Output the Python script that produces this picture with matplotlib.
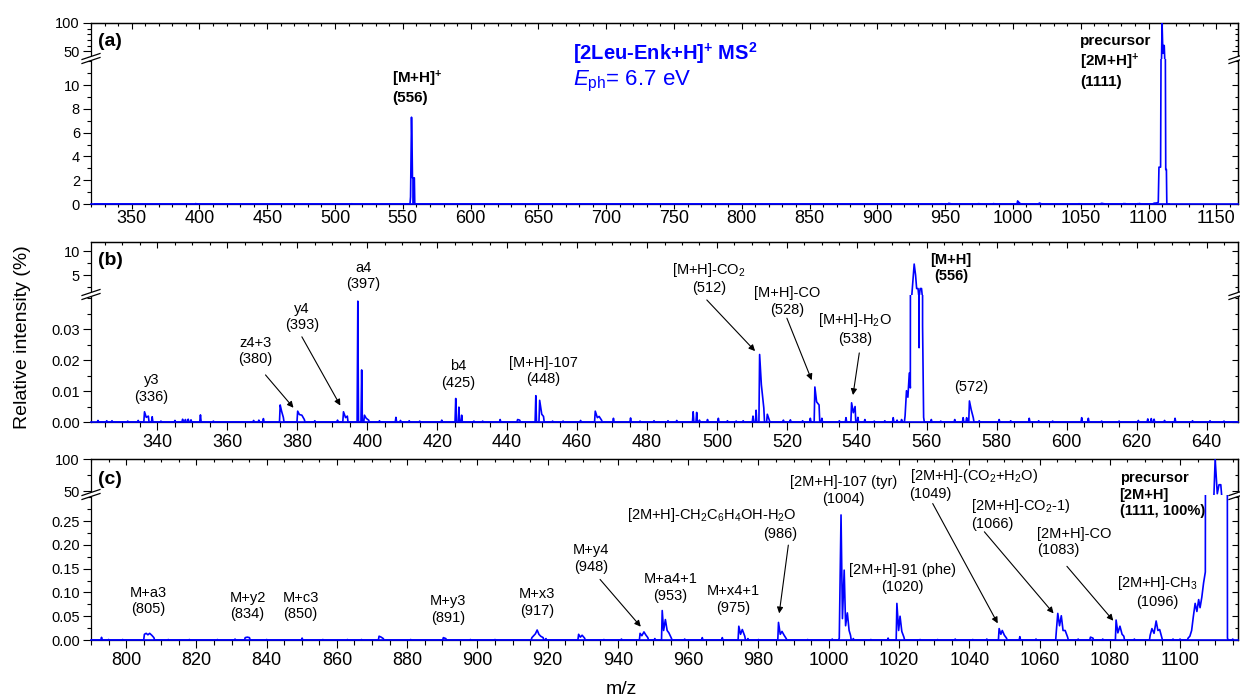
import matplotlib
matplotlib.use('Agg')
import matplotlib.pyplot as plt
from matplotlib.lines import Line2D
from matplotlib.patches import Polygon
from matplotlib.ticker import MultipleLocator, FixedLocator, FormatStrFormatter, NullFormatter

plt.rcParams['font.family'] = ['Liberation Sans', 'DejaVu Sans']
plt.rcParams['mathtext.fontset'] = 'custom'
plt.rcParams['mathtext.rm'] = 'Liberation Sans'
plt.rcParams['mathtext.it'] = 'Liberation Sans:italic'
plt.rcParams['mathtext.bf'] = 'Liberation Sans:bold'
plt.rcParams['axes.linewidth'] = 0.9

BLUE = '#0000ff'

# ══════════════════════════════════════════════
# DATA  (peak m/z, relative intensity in %)
# ══════════════════════════════════════════════

# [M+H]+ region (panel b window)
mz_low = [323.0, 325.5, 327.0, 331.5, 334.5, 336.3, 336.8, 337.4, 338.5, 341.0,
          345.0, 347.2, 348.0, 348.8, 349.6, 352.3, 356.0, 367.5, 369.0, 370.3,
          375.1, 375.5, 376.0, 380.1, 380.6, 381.3, 382.0, 385.0, 391.5, 393.2,
          393.8, 394.3, 397.3, 398.4, 399.2, 399.7, 400.4, 403.5, 408.2, 409.5,
          412.0, 415.0, 421.3, 425.3, 426.2, 427.0, 430.5, 433.0, 438.0, 443.0,
          443.6, 448.2, 449.3, 449.9, 450.4, 453.0, 456.0, 461.0, 465.2, 465.8,
          466.3, 467.0, 470.4, 475.3, 478.0, 482.0, 486.0, 488.5, 493.2, 494.2,
          495.0, 497.3, 500.4, 503.0, 505.5, 507.5, 510.3, 511.2, 512.2, 512.7,
          513.4, 514.4, 515.0, 519.0, 521.0, 524.5, 526.7, 528.0, 528.5, 529.2,
          530.0, 535.0, 536.9, 538.5, 539.0, 539.5, 540.3, 542.3, 545.0, 548.0,
          550.4, 551.5, 552.8, 553.8, 554.2, 554.6, 555.0, 555.3, 555.7, 556.4,
          556.8, 557.1, 557.5, 557.8, 558.1, 558.5, 558.8, 559.1, 561.3, 564.0,
          568.0, 570.4, 571.4, 572.2, 572.7, 573.3, 575.0, 580.7, 584.0, 589.3,
          592.0, 596.0, 604.3, 606.2, 610.0, 615.0, 620.5, 623.2, 624.2, 625.0,
          628.0, 631.0, 636.0, 641.0, 645.0]
int_low = [0.0005, 0.0004, 0.0004, 0.0003, 0.0005, 0.0033, 0.0015, 0.0019, 0.0017, 0.0003,
           0.0005, 0.0009, 0.0008, 0.0009, 0.0007, 0.0023, 0.0003, 0.0005, 0.0006, 0.0011,
           0.0055, 0.0035, 0.0015, 0.0035, 0.0024, 0.0022, 0.0008, 0.0004, 0.0006, 0.0033,
           0.0014, 0.0019, 0.0390, 0.0168, 0.0022, 0.0012, 0.0006, 0.0004, 0.0015, 0.0005,
           0.0004, 0.0003, 0.0006, 0.0076, 0.0048, 0.0022, 0.0003, 0.0003, 0.0008, 0.0008,
           0.0006, 0.0085, 0.0070, 0.0025, 0.0018, 0.0003, 0.0003, 0.0005, 0.0035, 0.0014,
           0.0018, 0.0006, 0.0012, 0.0013, 0.0003, 0.0004, 0.0004, 0.0005, 0.0033, 0.0031,
           0.0006, 0.0008, 0.0012, 0.0004, 0.0003, 0.0004, 0.0019, 0.0038, 0.0218, 0.0120,
           0.0045, 0.0025, 0.0005, 0.0006, 0.0007, 0.0004, 0.0012, 0.0113, 0.0065, 0.0055,
           0.0012, 0.0004, 0.0014, 0.0062, 0.0030, 0.0050, 0.0015, 0.0008, 0.0003, 0.0004,
           0.0014, 0.0006, 0.0008, 0.0020, 0.0101, 0.0080, 0.0158, 0.0110, 0.6, 7.3,
           5.0, 2.2, 2.2, 0.024, 2.2, 2.2, 0.031, 0.0015, 0.0008, 0.0003,
           0.0008, 0.0014, 0.0014, 0.0068, 0.0040, 0.0014, 0.0004, 0.0008, 0.0004, 0.0012,
           0.0004, 0.0003, 0.0014, 0.0012, 0.0003, 0.0003, 0.0005, 0.0010, 0.0011, 0.0009,
           0.0005, 0.0012, 0.0004, 0.0004, 0.0003]

# [2M+H]+ region (panel c window)
mz_high = [793.0, 795.0, 799.0, 805.2, 805.7, 806.2, 806.7, 807.3, 807.9, 812.0,
           818.0, 826.0, 831.0, 833.9, 834.5, 835.1, 840.0, 850.1, 856.0, 863.0,
           867.0, 872.0, 872.6, 873.2, 881.0, 890.3, 891.0, 898.0, 905.0, 915.5,
           916.0, 916.5, 917.0, 917.5, 918.0, 918.7, 919.5, 928.8, 929.3, 929.8,
           930.5, 936.0, 941.0, 946.3, 946.8, 947.4, 947.9, 948.5, 950.5, 952.6,
           953.0, 953.5, 954.0, 954.5, 955.2, 959.0, 964.0, 969.7, 974.4, 974.9,
           975.4, 976.1, 977.0, 980.0, 985.7, 986.2, 986.7, 987.3, 987.9, 994.0,
           1001.0, 1003.0, 1003.5, 1003.9, 1004.4, 1004.8, 1005.3, 1005.8, 1006.2, 1007.0,
           1012.0, 1016.9, 1019.4, 1019.9, 1020.3, 1020.8, 1021.4, 1026.0, 1031.0, 1036.0,
           1041.0, 1045.0, 1048.5, 1049.0, 1049.4, 1050.0, 1050.6, 1054.4, 1059.0, 1064.8,
           1065.2, 1065.7, 1066.2, 1066.7, 1067.3, 1068.0, 1071.0, 1074.5, 1075.2, 1078.0,
           1081.8, 1082.3, 1082.9, 1083.5, 1084.0, 1087.0, 1091.5, 1092.0, 1092.6, 1093.2,
           1093.7, 1094.2, 1094.8, 1098.0, 1100.0, 1102.3, 1102.8, 1103.3, 1103.8, 1104.3,
           1104.8, 1105.3, 1105.7, 1106.2, 1106.7, 1107.2, 1107.7, 1108.3, 1108.9, 1109.5,
           1110.0, 1110.6, 1111.1, 1111.6, 1112.2, 1112.7, 1113.2, 1113.5, 1115.0]
int_high = [0.0056, 0.001, 0.001, 0.012, 0.014, 0.011, 0.014, 0.010, 0.005, 0.001,
            0.001, 0.001, 0.002, 0.005, 0.006, 0.005, 0.001, 0.004, 0.001, 0.001,
            0.001, 0.008, 0.006, 0.003, 0.001, 0.005, 0.003, 0.001, 0.001, 0.005,
            0.009, 0.013, 0.021, 0.012, 0.008, 0.005, 0.003, 0.012, 0.006, 0.010,
            0.004, 0.001, 0.002, 0.014, 0.009, 0.017, 0.011, 0.005, 0.003, 0.062,
            0.020, 0.043, 0.020, 0.015, 0.004, 0.002, 0.005, 0.005, 0.029, 0.012,
            0.022, 0.008, 0.003, 0.001, 0.037, 0.012, 0.018, 0.010, 0.003, 0.001,
            0.002, 0.004, 0.263, 0.045, 0.147, 0.030, 0.057, 0.020, 0.010, 0.003,
            0.001, 0.004, 0.077, 0.020, 0.050, 0.018, 0.006, 0.001, 0.001, 0.002,
            0.001, 0.002, 0.024, 0.012, 0.020, 0.010, 0.004, 0.007, 0.002, 0.020,
            0.056, 0.030, 0.051, 0.020, 0.020, 0.006, 0.002, 0.006, 0.004, 0.002,
            0.042, 0.015, 0.029, 0.012, 0.008, 0.002, 0.010, 0.024, 0.014, 0.040,
            0.020, 0.022, 0.006, 0.002, 0.002, 0.004, 0.008, 0.020, 0.050, 0.077,
            0.060, 0.085, 0.068, 0.090, 0.120, 0.143, 3.1, 3.1, 3.1, 20.0,
            100.0, 46.0, 60.0, 60.0, 20.0, 2.9, 2.9, 0.004, 0.002]

# labels: (text, x, y, ha, arrow tail/head or None)
labels_a_bold = [
    ('[M+H]$^{\\mathbf{+}}$\n(556)', 541.9, 9.86, 'left', None),
    ('precursor\n[2M+H]$^{\\mathbf{+}}$\n(1111)', 1049.6, 11.99, 'left', None),
]
labels_b = [
    ('y3\n(336)', 338.3, 0.0108, 'center', None),
    ('z4+3\n(380)', 368.0, 0.0229, 'center', (370.9, 0.0152, 378.9, 0.0046)),
    ('y4\n(393)', 381.3, 0.0339, 'center', (381.3, 0.0275, 392.3, 0.0053)),
    ('a4\n(397)', 398.9, 0.0471, 'center', None),
    ('b4\n(425)', 426.1, 0.0153, 'center', None),
    ('[M+H]-107\n(448)', 450.3, 0.0165, 'center', None),
    ('[M+H]-CO$_{\\mathregular{2}}$\n(512)', 497.7, 0.0465, 'center', (497.1, 0.0394, 510.9, 0.0229)),
    ('[M+H]-CO\n(528)', 520.0, 0.0390, 'center', (520.0, 0.0335, 527.1, 0.0135)),
    ('[M+H]-H$_{\\mathregular{2}}$O\n(538)', 539.4, 0.0302, 'center', (540.7, 0.0223, 538.9, 0.0087)),
    ('(572)', 572.8, 0.0114, 'center', None),
]
labels_b_bold = [
    ('[M+H]\n(556)', 566.9, 0.0497, 'center', None),
]
labels_c = [
    ('M+a3\n(805)', 806.2, 0.082, 'center', None),
    ('M+y2\n(834)', 834.6, 0.0714, 'center', None),
    ('M+c3\n(850)', 849.7, 0.0714, 'center', None),
    ('M+y3\n(891)', 891.6, 0.064, 'center', None),
    ('M+x3\n(917)', 916.9, 0.0788, 'center', None),
    ('M+y4\n(948)', 932.3, 0.1716, 'center', (934.9, 0.1275, 946.5, 0.028)),
    ('M+a4+1\n(953)', 954.9, 0.111, 'center', None),
    ('M+x4+1\n(975)', 972.9, 0.085, 'center', None),
    ('[2M+H]-CH$_{\\mathregular{2}}$C$_{\\mathregular{6}}$H$_{\\mathregular{4}}$OH-H$_{\\mathregular{2}}$O\n(986)',
     991.0, 0.2444, 'right', (988.5, 0.1996, 985.9, 0.056)),
    ('[2M+H]-107 (tyr)\n(1004)', 1004.2, 0.315, 'center', None),
    ('[2M+H]-91 (phe)\n(1020)', 1021.0, 0.130, 'center', None),
    ('[2M+H]-(CO$_{\\mathregular{2}}$+H$_{\\mathregular{2}}$O)\n(1049)', 1023.0, 0.328, 'left',
     (1029.6, 0.287, 1048.1, 0.035)),
    ('[2M+H]-CO$_{\\mathregular{2}}$-1)\n(1066)', 1040.4, 0.265, 'left', (1044.3, 0.2276, 1064.0, 0.056)),
    ('[2M+H]-CO\n(1083)', 1059.4, 0.206, 'left', (1067.8, 0.155, 1081.0, 0.0406)),
    ('[2M+H]-CH$_{\\mathregular{3}}$\n(1096)', 1093.5, 0.102, 'center', None),
]
labels_c_bold = [
    ('precursor\n[2M+H]\n(1111, 100%)', 1082.8, 0.306, 'left', None),
]


# ══════════════════════════════════════════════
# HELPERS
# ══════════════════════════════════════════════

W, H = 1240, 697
LEFT, RIGHT = 91, 1238


def box(top, bottom):
    return [LEFT / W, 1 - bottom / H, (RIGHT - LEFT) / W, (bottom - top) / H]


def spectrum_line(mz, inten, gap=0.75, w=0.2):
    """Stick peaks joined into one profile line; isolated peaks drop to baseline."""
    xs, ys = [], []
    prev = None
    for m, h in zip(mz, inten):
        if prev is None or m - prev > gap:
            if prev is not None:
                xs.append(prev + w)
                ys.append(0)
            xs.append(m - w)
            ys.append(0)
        xs.append(m)
        ys.append(h)
        prev = m
    xs.append(prev + w)
    ys.append(0)
    return xs, ys


def inner_ticks(sec, axis, maj, mnr):
    ax_ = sec.yaxis if axis == 'y' else sec.xaxis
    ax_.set_major_locator(maj)
    ax_.set_minor_locator(mnr)
    ax_.set_major_formatter(NullFormatter())
    sec.tick_params(which='major', direction='in', length=4, width=0.8)
    sec.tick_params(which='minor', direction='in', length=2.5, width=0.8)


def break_mark(fig, x, y):
    def f(px, py):
        return (px / W, 1 - py / H)
    poly = [f(x - 9, y + 0.5), f(x + 9, y - 5.5), f(x + 9, y - 1.5), f(x - 9, y + 4.5)]
    fig.add_artist(Polygon(poly, closed=True, facecolor='white', edgecolor='none',
                           transform=fig.transFigure, zorder=10))
    for off in (-2.0, 2.0):
        p0, p1 = f(x - 9, y + 2.5 + off), f(x + 9, y - 3.5 + off)
        fig.add_artist(Line2D([p0[0], p1[0]], [p0[1], p1[1]], color='black', lw=0.9,
                              transform=fig.transFigure, zorder=11))


def put_labels(ax, labels, weight='normal', size=10.5):
    for txt, x, y, ha, arrow in labels:
        ax.text(x, y, txt, ha=ha, va='center', multialignment=ha, fontsize=size,
                fontweight=weight, clip_on=False, linespacing=1.25)
        if arrow:
            ax.annotate('', xy=(arrow[2], arrow[3]), xytext=(arrow[0], arrow[1]),
                        annotation_clip=False,
                        arrowprops=dict(arrowstyle='-|>', color='black', lw=0.8,
                                        mutation_scale=9, shrinkA=0, shrinkB=0))


# ══════════════════════════════════════════════
# PLOT
# ══════════════════════════════════════════════

x_all, y_all = spectrum_line(mz_low + mz_high, int_low + int_high)

panels = [
    dict(top=23, brk=59, bottom=204, xlim=(320, 1166), xmaj=50, xmin=10,
         hi_lim=(36, 100), hi_maj=[50, 100], hi_min=10, hi_fmt='%d',
         lo_lim=(0, 12.2), lo_maj=[0, 2, 4, 6, 8, 10], lo_min=1, lo_fmt='%d',
         xlen=(3.5, 2.2), xpad=1, tag='(a)', tag_y=0.5),
    dict(top=242, brk=295, bottom=422, xlim=(321, 649), xmaj=20, xmin=5,
         hi_lim=(0.85, 11.9), hi_maj=[5, 10], hi_min=2.5, hi_fmt='%d',
         lo_lim=(0, 0.041), lo_maj=[0, 0.01, 0.02, 0.03], lo_min=0.005, lo_fmt='%.2f',
         xlen=(5.8, 3.5), xpad=3, tag='(b)', tag_y=0.66),
    dict(top=459, brk=495, bottom=640, xlim=(790, 1116.5), xmaj=20, xmin=5,
         hi_lim=(44, 100), hi_maj=[50, 100], hi_min=25, hi_fmt='%d',
         lo_lim=(0, 0.305), lo_maj=[0, 0.05, 0.10, 0.15, 0.20, 0.25], lo_min=0.025, lo_fmt='%.2f',
         xlen=(5.8, 3.5), xpad=3, tag='(c)', tag_y=0.42),
]

fig = plt.figure(figsize=(12.4, 6.97), dpi=100)
axes_lo = []

for p in panels:
    ax_hi = fig.add_axes(box(p['top'], p['brk']))
    ax_lo = fig.add_axes(box(p['brk'], p['bottom']))
    ax_hi.set_zorder(2)
    ax_lo.set_zorder(3)

    for ax in (ax_hi, ax_lo):
        ax.plot(x_all, y_all, color=BLUE, lw=1.2, zorder=3)
        ax.set_xlim(*p['xlim'])
        ax.xaxis.set_major_locator(MultipleLocator(p['xmaj']))
        ax.xaxis.set_minor_locator(MultipleLocator(p['xmin']))

    ax_lo.axhline(0, color=BLUE, lw=1.2, zorder=4, clip_on=False)

    # upper (compressed) part
    ax_hi.set_ylim(*p['hi_lim'])
    ax_hi.yaxis.set_major_locator(FixedLocator(p['hi_maj']))
    ax_hi.yaxis.set_minor_locator(MultipleLocator(p['hi_min']))
    ax_hi.yaxis.set_major_formatter(FormatStrFormatter(p['hi_fmt']))
    ax_hi.spines['bottom'].set_visible(False)
    ax_hi.tick_params(axis='x', which='both', bottom=False, labelbottom=False)

    # lower part
    ax_lo.set_ylim(*p['lo_lim'])
    ax_lo.yaxis.set_major_locator(FixedLocator(p['lo_maj']))
    ax_lo.yaxis.set_minor_locator(MultipleLocator(p['lo_min']))
    ax_lo.yaxis.set_major_formatter(FormatStrFormatter(p['lo_fmt']))
    ax_lo.spines['top'].set_visible(False)
    ax_lo.tick_params(axis='x', which='major', direction='out', length=p['xlen'][0],
                      width=0.8, labelsize=13, pad=p['xpad'])
    ax_lo.tick_params(axis='x', which='minor', direction='out', length=p['xlen'][1], width=0.8)

    for ax in (ax_hi, ax_lo):
        ax.tick_params(axis='y', which='major', direction='out', length=5.5, width=0.8,
                       labelsize=10.5, pad=2.5)
        ax.tick_params(axis='y', which='minor', direction='out', length=3, width=0.8)
        sec = ax.secondary_yaxis('right')
        inner_ticks(sec, 'y', FixedLocator(ax.yaxis.get_majorticklocs()),
                    MultipleLocator(p['hi_min'] if ax is ax_hi else p['lo_min']))
    sec = ax_hi.secondary_xaxis('top')
    inner_ticks(sec, 'x', MultipleLocator(p['xmaj']), MultipleLocator(p['xmin']))

    ax_hi.text(0.006, p['tag_y'], p['tag'], transform=ax_hi.transAxes, fontsize=14,
               fontweight='bold', va='center', ha='left')

    break_mark(fig, LEFT, p['brk'])
    break_mark(fig, RIGHT, p['brk'])
    axes_lo.append(ax_lo)

ax_a, ax_b, ax_c = axes_lo

# ── Panel (a) texts ───────────────────────────
put_labels(ax_a, labels_a_bold, weight='bold', size=11)
ax_a.text(675.5, 12.69, '[2Leu-Enk+H]$^{\\mathbf{+}}$ MS$^{\\mathbf{2}}$', color=BLUE,
          fontsize=14.5, fontweight='bold', ha='left', va='center', clip_on=False)
ax_a.text(675.5, 10.28, '$\\mathit{E}_{\\mathrm{ph}}$= 6.7 eV', color=BLUE,
          fontsize=16, ha='left', va='center', clip_on=False)

# ── Panel (b) texts ───────────────────────────
put_labels(ax_b, labels_b)
put_labels(ax_b, labels_b_bold, weight='bold')

# ── Panel (c) texts ───────────────────────────
put_labels(ax_c, labels_c)
put_labels(ax_c, labels_c_bold, weight='bold')

fig.text(23 / W, 1 - 337 / H, 'Relative intensity (%)', rotation=90, fontsize=14,
         ha='center', va='center')
fig.text(621 / W, 1 - 689 / H, 'm/z', fontsize=14, ha='center', va='center')

fig.savefig('out.png', dpi=100)
